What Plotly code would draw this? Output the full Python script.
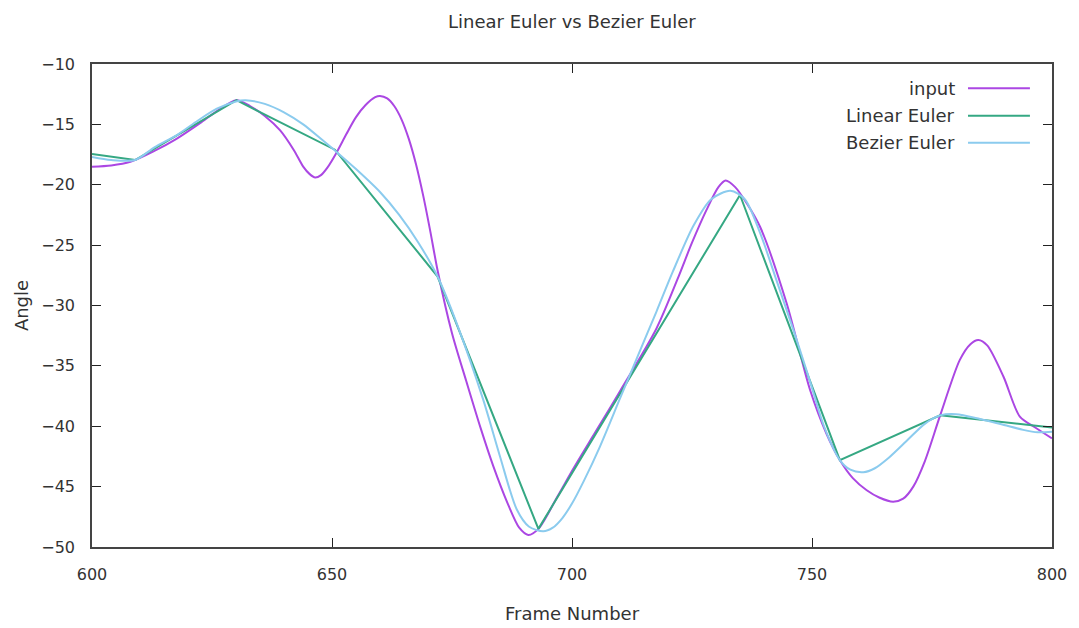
import plotly.graph_objects as go

# ---- data ----
input_x = [600, 604, 608, 613, 617.6, 622.5, 626, 630.1, 633, 636, 639.2, 642, 644, 645.3, 646.5,
           647.7, 649, 651, 653, 655, 657, 659, 660, 661.5, 663, 664.5, 666, 667.5, 669, 670.5, 672,
           675, 678, 681, 683.6, 686.5, 689, 690.9, 693, 697, 700.3, 705, 710, 717.6, 722, 725,
           728, 730.5, 732, 734, 736.5, 739.2, 744.7, 749.6, 753, 755.8, 758.5, 761.4, 764, 766.9,
           769, 771.1, 773.5, 776.7, 780.8, 783, 784.65, 786.5, 789.9, 793.3, 796.5, 800]
input_y = [-18.5, -18.4, -18.1, -17.2, -16.2, -14.9, -13.9, -13.0, -13.5, -14.3, -15.5, -17.1, -18.5, -19.1, -19.4,
           -19.2, -18.6, -17.3, -15.8, -14.4, -13.4, -12.75, -12.65, -12.85, -13.5, -14.6, -16.2, -18.3, -20.9, -23.9, -27.1,
           -32.3, -36.3, -40.2, -43.3, -46.3, -48.4, -49.0, -48.5, -45.8, -43.5, -40.4, -37.1, -31.9, -27.8, -24.8,
           -22.1, -20.2, -19.65, -20.2, -21.6, -23.5, -29.8, -37.0, -40.6, -42.8, -44.3, -45.3, -45.9, -46.25,
           -46.0, -45.0, -42.9, -39.1, -34.5, -33.2, -32.85, -33.3, -35.9, -39.2, -40.1, -41.0]

linear_x = [600, 609, 630.1, 650.6, 672, 693, 735, 755.8, 776.7, 800]
linear_y = [-17.45, -17.95, -13.0, -17.1, -27.6, -48.5, -20.85, -42.8, -39.1, -40.1]

bezier_x = [600, 604, 609, 613, 618, 622, 626, 630, 632, 636, 640, 644, 648, 651, 655, 660, 664, 668,
            672, 676, 681.5, 685, 688.5, 691, 694, 696, 698, 700, 702.5, 705.8, 710, 714, 717.6, 721,
            725.3, 729, 733, 736, 739.2, 742.5, 746.1, 749.6, 752.5, 755.8, 758, 760.7, 763, 766, 770,
            773.5, 776.7, 780, 785, 790, 794, 797, 800]
bezier_y = [-17.7, -17.95, -17.95, -16.9, -15.8, -14.7, -13.7, -13.1, -13.0, -13.3, -14.0, -15.0, -16.3,
            -17.3, -18.7, -20.6, -22.5, -24.8, -27.6, -31.5, -37.8, -42.5, -46.9, -48.3, -48.7, -48.4,
            -47.6, -46.4, -44.5, -41.7, -37.7, -33.9, -30.5, -27.2, -23.4, -21.2, -20.5, -21.2, -24.0,
            -27.8, -32.0, -36.3, -40.0, -42.8, -43.6, -43.8, -43.5, -42.6, -41.1, -39.8, -39.1, -39.0,
            -39.4, -39.9, -40.3, -40.5, -40.45]

series_names = ["input", "Linear Euler", "Bezier Euler"]
colors = ["#ab47e3", "#35a883", "#8bcbee"]

FONT = "DejaVu Sans"
TXT = "#333333"
LABEL_SIZE = 18
TICK_SIZE = 16

fig = go.Figure()
fig.add_trace(go.Scatter(x=input_x, y=input_y, mode="lines", name=series_names[0],
                         line=dict(color=colors[0], width=2, shape="spline", smoothing=0.8)))
fig.add_trace(go.Scatter(x=linear_x, y=linear_y, mode="lines", name=series_names[1],
                         line=dict(color=colors[1], width=2)))
fig.add_trace(go.Scatter(x=bezier_x, y=bezier_y, mode="lines", name=series_names[2],
                         line=dict(color=colors[2], width=2, shape="spline", smoothing=0.8)))

# legend (gnuplot style: text right-aligned, sample on the right)
leg_y = [0.950, 0.893, 0.837]
for name, c, yy in zip(series_names, colors, leg_y):
    fig.add_annotation(xref="paper", yref="paper", x=0.901, y=yy, text=name, showarrow=False,
                       xanchor="right", yanchor="middle",
                       font=dict(family=FONT, size=LABEL_SIZE, color=TXT))
    fig.add_shape(type="line", xref="paper", yref="paper", x0=0.9125, x1=0.977, y0=yy, y1=yy,
                  line=dict(color=c, width=2))

axis_common = dict(showgrid=False, zeroline=False, showline=True, linecolor="#444444", linewidth=1.5,
                   mirror="ticks", ticks="inside", ticklen=9, tickwidth=1.2, tickcolor="#222222",
                   automargin=False,
                   tickfont=dict(family=FONT, size=TICK_SIZE, color=TXT))

fig.update_layout(
    width=1079, height=628,
    margin=dict(l=92, r=27, t=64, b=81),
    paper_bgcolor="white", plot_bgcolor="white",
    showlegend=False,
    title=dict(text="Linear Euler vs Bezier Euler", x=0.53, xanchor="center",
               y=1 - 22 / 628, yanchor="middle", yref="container",
               font=dict(family=FONT, size=LABEL_SIZE, color=TXT)),
    xaxis=dict(range=[600, 800], tickvals=[600, 650, 700, 750, 800], ticklabelstandoff=12,
               title=dict(text="Frame Number", standoff=24,
                          font=dict(family=FONT, size=LABEL_SIZE, color=TXT)),
               **axis_common),
    yaxis=dict(range=[-50, -10], tickvals=[-50, -45, -40, -35, -30, -25, -20, -15, -10],
               ticklabelstandoff=12,
               title=dict(text="Angle", standoff=8, font=dict(family=FONT, size=LABEL_SIZE, color=TXT)),
               **axis_common),
)

fig.write_html("out.html")
